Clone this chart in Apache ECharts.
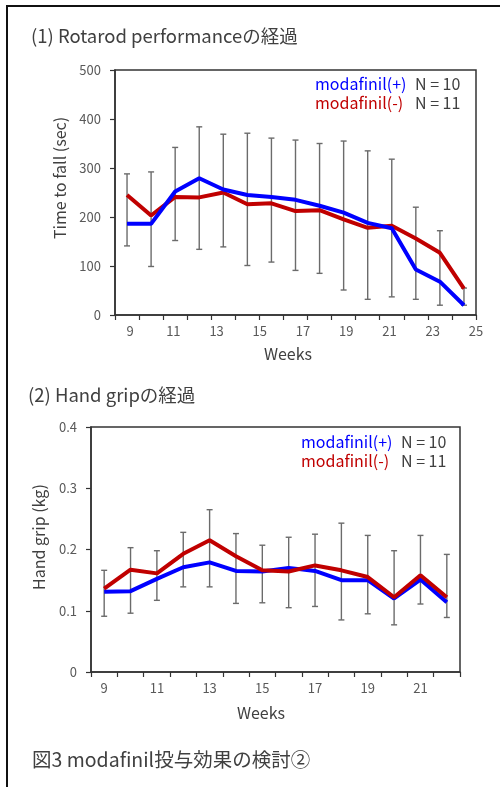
<!DOCTYPE html>
<html>
<head>
<meta charset="utf-8">
<script src="https://cdn.jsdelivr.net/npm/echarts@6/dist/echarts.min.js"></script>
<style>
html,body{margin:0;padding:0;background:#fff;}
#chart{width:500px;height:787px;}
</style>
</head>
<body>
<div id="chart"></div>
<script>
// ---------- (1) Rotarod ----------
const rotarodPoints = ['1','2','3','4','5','6','7','8','9','10','11','12','13','14','15'];
const rotarodWeekTicks = [9, 11, 13, 15, 17, 19, 21, 23, 25];
const rotarodPlus  = [186, 186, 252, 279, 256, 245, 241, 235, 223, 209, 188, 177, 93, 68, 20];
const rotarodMinus = [245, 203, 241, 240, 250, 226, 228, 212, 214, 195, 178, 182, 156, 127, 54];
const rotarodErrLow  = [141, 99, 152, 134, 139, 101, 108, 91, 85, 51, 32, 37, 32, 20, 20];
const rotarodErrHigh = [288, 292, 342, 384, 369, 371, 361, 357, 350, 355, 335, 318, 220, 172, 55];
const rotarodYTicks = [0, 100, 200, 300, 400, 500];

// ---------- (2) Hand grip ----------
const gripWeeks = ['9','10','11','12','13','14','15','16','17','18','19','20','21','22'];
const gripPlus  = [0.131, 0.132, 0.152, 0.171, 0.179, 0.165, 0.164, 0.170, 0.165, 0.150, 0.150, 0.120, 0.151, 0.114];
const gripMinus = [0.136, 0.167, 0.161, 0.193, 0.215, 0.189, 0.166, 0.164, 0.174, 0.166, 0.155, 0.122, 0.158, 0.122];
const gripErrLow  = [0.091, 0.096, 0.117, 0.139, 0.139, 0.112, 0.113, 0.105, 0.107, 0.085, 0.095, 0.077, 0.111, 0.089];
const gripErrHigh = [0.166, 0.203, 0.198, 0.228, 0.265, 0.226, 0.207, 0.220, 0.225, 0.243, 0.223, 0.198, 0.223, 0.192];
const gripYTicks = [0, 0.1, 0.2, 0.3, 0.4];

const legendPlus = 'modafinil(+)';
const legendMinus = 'modafinil(-)';
const nPlus = 'N = 10';
const nMinus = 'N = 11';

const FONT = '"Noto Sans CJK JP", "Noto Sans", sans-serif';
const BLUE = '#0000ff';
const RED = '#c00000';
const AXIS = '#333333';
const LABEL = '#595959';
const ERR = '#6b6b6b';

function errRows(low, high) {
  return low.map((l, i) => [i, l, high[i]]);
}

function errRender(params, api) {
  const x = api.value(0);
  const lo = api.coord([x, api.value(1)]);
  const hi = api.coord([x, api.value(2)]);
  const w = 3;
  const style = { stroke: ERR, lineWidth: 1.4, fill: null };
  return {
    type: 'group',
    children: [
      { type: 'line', shape: { x1: lo[0], y1: lo[1], x2: hi[0], y2: hi[1] }, style },
      { type: 'line', shape: { x1: lo[0] - w, y1: lo[1], x2: lo[0] + w, y2: lo[1] }, style },
      { type: 'line', shape: { x1: hi[0] - w, y1: hi[1], x2: hi[0] + w, y2: hi[1] }, style }
    ]
  };
}

const chart = echarts.init(document.getElementById('chart'), null, { renderer: 'canvas' });

function txt(text, x, y, size, color, align) {
  return {
    type: 'text',
    style: { text, x, y, font: size + 'px ' + FONT, fill: color, textAlign: align || 'left', textVerticalAlign: 'middle' }
  };
}

const option = {
  backgroundColor: '#ffffff',
  animation: false,
  textStyle: { fontFamily: FONT },
  grid: [
    { left: 115, top: 70, width: 361, height: 245, show: true, borderColor: AXIS, borderWidth: 1.5, backgroundColor: 'transparent' },
    { left: 91, top: 427, width: 369, height: 245, show: true, borderColor: AXIS, borderWidth: 1.5, backgroundColor: 'transparent' }
  ],
  xAxis: [
    {
      gridIndex: 0, type: 'category', data: rotarodPoints, boundaryGap: true,
      axisLine: { lineStyle: { color: AXIS, width: 1.5 } },
      axisTick: { show: true, alignWithLabel: false, interval: 0, length: 5, lineStyle: { color: AXIS, width: 1.2 } },
      axisLabel: { show: false }, splitLine: { show: false }
    },
    {
      gridIndex: 0, type: 'value', min: 8.3, max: 25, position: 'bottom',
      axisLine: { show: false }, axisTick: { show: false }, splitLine: { show: false },
      axisLabel: { show: true, customValues: rotarodWeekTicks, fontSize: 13, color: LABEL, margin: 10, fontFamily: FONT, showMinLabel: true, showMaxLabel: true }
    },
    {
      gridIndex: 1, type: 'category', data: gripWeeks, boundaryGap: true,
      axisLine: { lineStyle: { color: AXIS, width: 1.5 } },
      axisTick: { show: true, interval: 0, length: 5, lineStyle: { color: AXIS, width: 1.2 } },
      axisLabel: { show: true, interval: 1, fontSize: 13, color: LABEL, margin: 10, fontFamily: FONT },
      splitLine: { show: false }
    }
  ],
  yAxis: [
    {
      gridIndex: 0, type: 'value', min: 0, max: 500, interval: 100,
      axisLine: { show: true, lineStyle: { color: AXIS, width: 1.5 } },
      axisTick: { show: true, length: 5, lineStyle: { color: AXIS, width: 1.2 } },
      axisLabel: { fontSize: 13, color: LABEL, margin: 14, fontFamily: FONT,
        customValues: rotarodYTicks },
      splitLine: { show: false }
    },
    {
      gridIndex: 1, type: 'value', min: 0, max: 0.4, interval: 0.1,
      axisLine: { show: true, lineStyle: { color: AXIS, width: 1.5 } },
      axisTick: { show: true, length: 5, lineStyle: { color: AXIS, width: 1.2 } },
      axisLabel: { fontSize: 13, color: LABEL, margin: 14, fontFamily: FONT,
        formatter: v => (v === 0 ? '0' : v.toFixed(1)) },
      splitLine: { show: false }
    }
  ],
  series: [
    { type: 'custom', xAxisIndex: 0, yAxisIndex: 0, renderItem: errRender, data: errRows(rotarodErrLow, rotarodErrHigh), z: 1 },
    { type: 'line', xAxisIndex: 0, yAxisIndex: 0, data: rotarodMinus, symbol: 'none', lineStyle: { color: RED, width: 4 }, z: 2 },
    { type: 'line', xAxisIndex: 0, yAxisIndex: 0, data: rotarodPlus, symbol: 'none', lineStyle: { color: BLUE, width: 4 }, z: 3 },
    { type: 'custom', xAxisIndex: 2, yAxisIndex: 1, renderItem: errRender, data: errRows(gripErrLow, gripErrHigh), z: 1 },
    { type: 'line', xAxisIndex: 2, yAxisIndex: 1, data: gripPlus, symbol: 'none', lineStyle: { color: BLUE, width: 4 }, z: 2 },
    { type: 'line', xAxisIndex: 2, yAxisIndex: 1, data: gripMinus, symbol: 'none', lineStyle: { color: RED, width: 4 }, z: 3 }
  ],
  graphic: [
    { type: 'rect', shape: { x: 7, y: 6, width: 520, height: 820 }, style: { fill: null, stroke: '#111', lineWidth: 2 }, silent: true },
    txt('(1) Rotarod performanceの経過', 31, 36, 18.5, '#404040'),
    txt('(2) Hand gripの経過', 28, 395, 18.5, '#404040'),
    txt('図3 modafinil投与効果の検討②', 32, 760, 19.5, '#404040'),
    txt('Weeks', 288, 354, 16, '#404040', 'center'),
    txt('Weeks', 261, 713, 16, '#404040', 'center'),
    { type: 'text', x: 60, y: 178, rotation: Math.PI / 2,
      style: { text: 'Time to fall (sec)', font: '16px ' + FONT, fill: '#404040', textAlign: 'center', textVerticalAlign: 'middle' } },
    { type: 'text', x: 39, y: 537, rotation: Math.PI / 2,
      style: { text: 'Hand grip (kg)', font: '16px ' + FONT, fill: '#404040', textAlign: 'center', textVerticalAlign: 'middle' } },
    txt(legendPlus, 315, 84, 16, BLUE),
    txt(nPlus, 415, 84, 16, '#404040'),
    txt(legendMinus, 315, 103, 16, RED),
    txt(nMinus, 415, 103, 16, '#404040'),
    txt(legendPlus, 301, 442, 16, BLUE),
    txt(nPlus, 401, 442, 16, '#404040'),
    txt(legendMinus, 301, 461, 16, RED),
    txt(nMinus, 401, 461, 16, '#404040')
  ]
};
chart.setOption(option);
</script>
</body>
</html>
